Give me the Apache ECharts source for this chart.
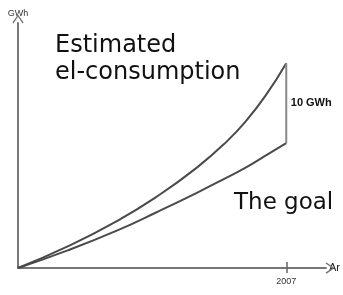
<!DOCTYPE html>
<html>
<head>
<meta charset="utf-8">
<script src="https://cdn.jsdelivr.net/npm/echarts@6/dist/echarts.min.js"></script>
<style>
  html, body { margin: 0; padding: 0; background: #fff; }
  #chart { width: 343px; height: 295px; }
</style>
</head>
<body>
<div id="chart"></div>
<script>
// years along the x axis, GWh on the y axis
const years = [1980, 1985, 1990, 1994, 1998, 2001, 2003, 2005, 2007];
const estimated = [0, 2.7, 5.9, 8.95, 12.55, 15.8, 18.45, 21.7, 25.6];
const goal = [0, 2.2, 4.7, 7.0, 9.4, 11.3, 12.6, 14.1, 15.6];
const tickYears = [2007];
const gapLabel = '10 GWh';

const chevron = 'path://M5,0 L10,7 L9,8 L5,2 L1,8 L0,7 Z';
const lineColor = '#4a4a4a';

const myChart = echarts.init(document.getElementById('chart'));

const option = {
  animation: false,
  backgroundColor: '#fff',
  title: [
    {
      text: 'Estimated\nel-consumption',
      left: 50, top: 27,
      textStyle: { fontFamily: 'DejaVu Sans', fontSize: 24, fontWeight: 'normal', color: '#111', lineHeight: 27 }
    },
    {
      text: 'The goal',
      left: 229, top: 187,
      textStyle: { fontFamily: 'DejaVu Sans', fontSize: 23, fontWeight: 'normal', color: '#111' }
    }
  ],
  grid: { left: 18, right: 15, top: 23, bottom: 27, containLabel: false },
  xAxis: [
    {
      type: 'value', min: 1980, max: 2011,
      name: 'Ar', nameLocation: 'end', nameGap: 3,
      nameTextStyle: { fontFamily: 'Liberation Sans', fontSize: 11, color: '#222', verticalAlign: 'middle' },
      axisLine: { lineStyle: { color: '#777', width: 2 }, symbol: ['none', chevron], symbolSize: [12, 9], symbolOffset: [0, 4] },
      axisTick: { show: true, length: 5, customValues: tickYears, lineStyle: { color: '#666', width: 1.5 } },
      axisLabel: { customValues: tickYears, margin: 9, formatter: v => String(v), fontFamily: 'Liberation Sans', fontSize: 9, color: '#333' },
      splitLine: { show: false }
    },
    {
      type: 'value', min: 1980, max: 2011, position: 'bottom',
      axisLine: { show: false },
      axisTick: { show: true, inside: true, length: 6, customValues: tickYears, lineStyle: { color: '#666', width: 1.5 } },
      axisLabel: { show: false },
      splitLine: { show: false }
    }
  ],
  yAxis: {
    type: 'value', min: 0, max: 30.625,
    name: 'GWh', nameLocation: 'end', nameGap: 5,
    nameTextStyle: { fontFamily: 'Liberation Sans', fontSize: 9, color: '#333', align: 'center' },
    axisLine: { show: true, lineStyle: { color: '#777', width: 2 }, symbol: ['none', chevron], symbolSize: [12, 9], symbolOffset: [0, 4] },
    axisTick: { show: false },
    axisLabel: { show: false },
    splitLine: { show: false }
  },
  series: [
    {
      name: 'Estimated',
      type: 'line',
      smooth: true,
      showSymbol: false,
      data: years.map((y, i) => [y, estimated[i]]),
      lineStyle: { color: lineColor, width: 2 }
    },
    {
      name: 'Goal',
      type: 'line',
      smooth: true,
      showSymbol: false,
      data: years.map((y, i) => [y, goal[i]]),
      lineStyle: { color: lineColor, width: 2 }
    },
    {
      name: 'Gap',
      type: 'line',
      showSymbol: false,
      data: [[years[years.length - 1], goal[goal.length - 1]], [years[years.length - 1], estimated[estimated.length - 1]]],
      lineStyle: { color: '#888', width: 2 },
      markPoint: {
        symbol: 'rect', symbolSize: 1,
        itemStyle: { color: 'transparent' },
        data: [{
          coord: [years[years.length - 1], (goal[goal.length - 1] + estimated[estimated.length - 1]) / 2],
          label: {
            show: true, position: 'right', distance: 4, formatter: gapLabel,
            fontFamily: 'Liberation Sans', fontSize: 11, fontWeight: 'bold', color: '#111'
          }
        }]
      }
    }
  ]
};

myChart.setOption(option);
window.addEventListener('resize', () => myChart.resize());
</script>
</body>
</html>
